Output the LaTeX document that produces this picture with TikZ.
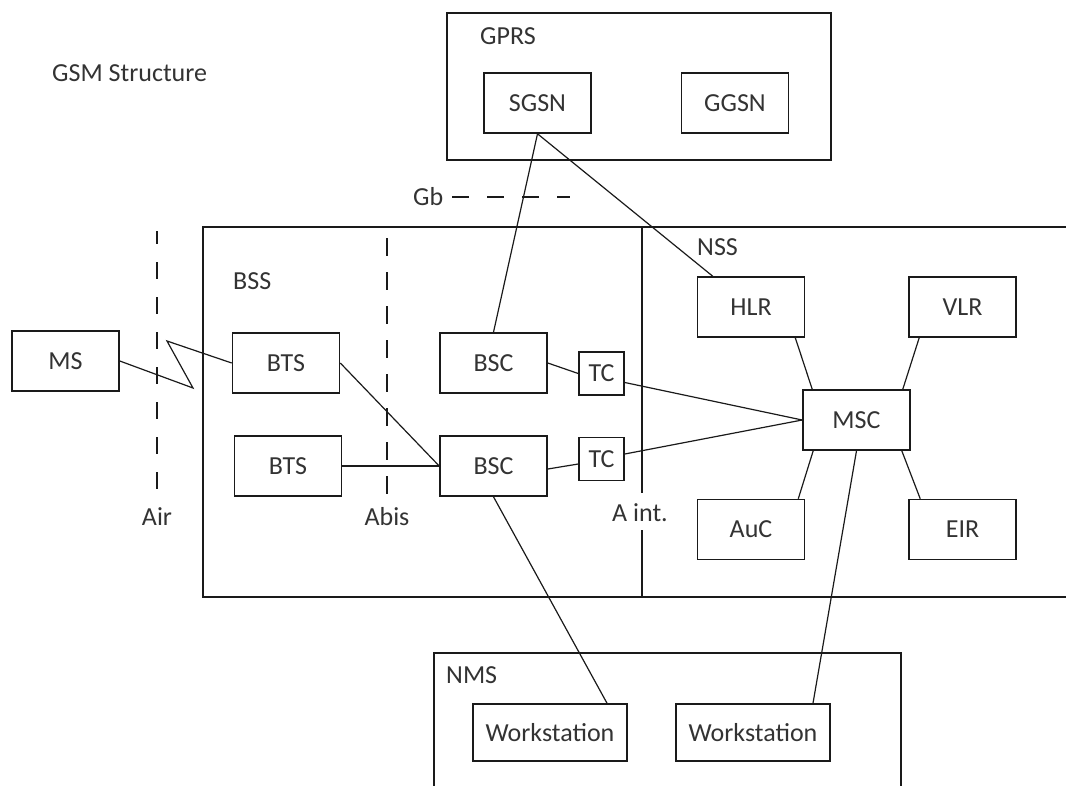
\documentclass[tikz,border=0pt]{standalone}
\usepackage{fontspec}
\setmainfont{Carlito}
\usetikzlibrary{calc}
\definecolor{ink}{HTML}{333333}
\definecolor{edge}{HTML}{1A1A1A}
\begin{document}
\begin{tikzpicture}[x=1pt,y=-1pt,
  txt/.style={font=\fontsize{26}{30}\selectfont, text=ink, inner sep=0pt},
  frame/.style={draw=edge, line width=1.6pt, inner sep=0pt},
  elem/.style={draw=edge, line width=1.6pt, txt, minimum width=107pt, minimum height=60pt},
  tcbox/.style={elem, minimum width=45pt, minimum height=43pt},
  wsbox/.style={elem, minimum width=154pt, minimum height=57pt},
  conn/.style={draw=edge, line width=1.2pt},
  iface/.style={draw=edge, line width=1.4pt, dash pattern=on 17pt off 18pt}]
\useasboundingbox (0,0) rectangle (1066,785);

% title
\node[txt, anchor=west] (title) at (52,73) {GSM Structure};

% subsystem frames
\node[frame, minimum width=384pt, minimum height=147pt] (gprs) at (639,86.5) {};
\node[txt, anchor=west] (gprslbl) at (480,36) {GPRS};
\draw[frame] (203,227) rectangle (1085,597);
\draw[frame] (642,227) -- (642,493);
\draw[frame] (642,530) -- (642,597);
\node[txt, anchor=west] (bsslbl) at (233,281) {BSS};
\node[txt, anchor=west] (nsslbl) at (697,247) {NSS};
\node[txt, anchor=west] (aint) at (612,513) {A int.};
\node[frame, minimum width=467pt, minimum height=160pt] (nms) at (667.5,733) {};
\node[txt, anchor=west] (nmslbl) at (446,675) {NMS};

% network elements
\node[elem] (sgsn) at (537.5,103) {SGSN};
\node[elem] (ggsn) at (735,103) {GGSN};
\node[elem] (ms) at (65.5,361) {MS};
\node[elem] (bts1) at (286,363) {BTS};
\node[elem] (bts2) at (288,466) {BTS};
\node[elem] (bsc1) at (493.5,363) {BSC};
\node[elem] (bsc2) at (493.5,466) {BSC};
\node[tcbox] (tc1) at (601.5,373.5) {TC};
\node[tcbox] (tc2) at (601.5,459) {TC};
\node[elem] (hlr) at (751,307) {HLR};
\node[elem] (vlr) at (962.5,307) {VLR};
\node[elem] (msc) at (856.5,420) {MSC};
\node[elem] (auc) at (751,529.5) {AuC};
\node[elem] (eir) at (962.5,529.5) {EIR};
\node[wsbox] (ws1) at (550,732.5) {Workstation};
\node[wsbox] (ws2) at (753,732.5) {Workstation};

% interface lines
\node[txt, anchor=west] (gblbl) at (413,197) {Gb};
\coordinate (gbA) at (452,197);
\coordinate (gbB) at (570,197);
\draw[iface] (gbA) -- (gbB);
\node[txt] (airlbl) at (157,517) {Air};
\coordinate (airA) at (157,231);
\coordinate (airB) at (157,492);
\draw[iface, dash phase=4pt] (airA) -- (airB);
\node[txt] (abislbl) at (387,517) {Abis};
\coordinate (abisA) at (387,238);
\coordinate (abisB) at (387,503);
\draw[iface, dash pattern=on 18pt off 16pt] (abisA) -- (abisB);

% radio link with lightning zigzag
\coordinate (zz1) at (193,388);
\coordinate (zz2) at (167,341);
\draw[conn] (ms.east) -- (zz1) -- (zz2) -- (bts1.west);

% connections
\draw[conn] (sgsn.south) -- (bsc1.north);
\draw[conn] (sgsn.south) -- ([xshift=16pt]hlr.north west);
\draw[conn] (bts1.east) -- (bsc2.west);
\draw[conn] (bts2.east) -- (bsc2.west);
\draw[conn] (bsc1.east) -- (tc1.west);
\draw[conn] ([yshift=-3pt]bsc2.east) -- ([yshift=-5pt]tc2.west);
\draw[conn] ([yshift=-9pt]tc1.east) -- (msc.west);
\draw[conn] ([yshift=5pt]tc2.east) -- (msc.west);
\draw[conn] ([xshift=-10pt]hlr.south east) -- ([xshift=10pt]msc.north west);
\draw[conn] ([xshift=11pt]vlr.south west) -- ([xshift=-8pt]msc.north east);
\draw[conn] ([xshift=-7pt]auc.north east) -- ([xshift=11pt]msc.south west);
\draw[conn] ([xshift=12pt]eir.north west) -- ([xshift=-9pt]msc.south east);
\draw[conn] (bsc2.south) -- ([xshift=57pt]ws1.north);
\draw[conn] (msc.south) -- ([xshift=60pt]ws2.north);
\end{tikzpicture}
\end{document}
